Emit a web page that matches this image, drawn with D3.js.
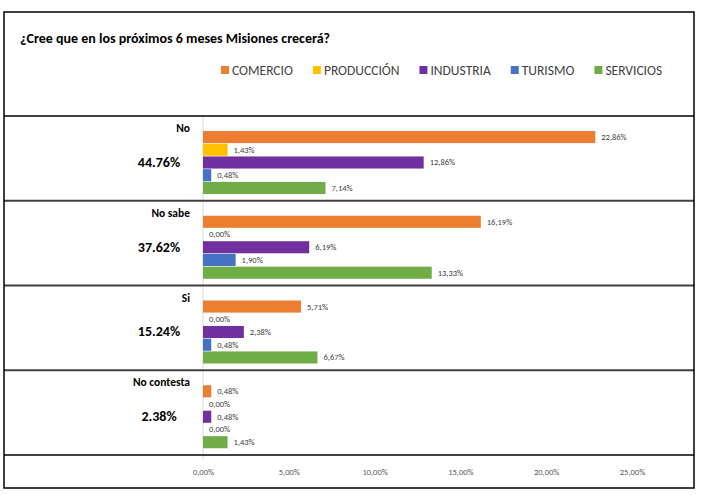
<!DOCTYPE html>
<html>
<head>
<meta charset="utf-8">
<script src="https://cdn.jsdelivr.net/npm/d3@7"></script>
<style>
  body { margin: 0; background: #fff; }
  svg { font-family: Carlito, "Liberation Sans", Arial, sans-serif; }
</style>
</head>
<body>
<svg id="chart"></svg>
<script>
// Data
const categories = ['No', 'No sabe', 'Si', 'No contesta'];
const totals = ['44.76%', '37.62%', '15.24%', '2.38%'];
const series = ['COMERCIO', 'PRODUCCIÓN', 'INDUSTRIA', 'TURISMO', 'SERVICIOS'];
const colors = ['#ED7D31', '#FFC000', '#7030A0', '#4472C4', '#70AD47'];
const comercio   = [22.86, 16.19, 5.71, 0.48];
const produccion = [1.43, 0.00, 0.00, 0.00];
const industria  = [12.86, 6.19, 2.38, 0.48];
const turismo    = [0.48, 1.90, 0.48, 0.00];
const servicios  = [7.14, 13.33, 6.67, 1.43];
const tickValues = [0, 5, 10, 15, 20, 25];
const title = '¿Cree que en los próximos 6 meses Misiones crecerá?';

const seriesValues = [comercio, produccion, industria, turismo, servicios];
const rows = categories.map((c, i) => ({
    category: c,
    total: totals[i],
    values: series.map((s, j) => ({ series: s, value: seriesValues[j][i] }))
}));

const width = 701, height = 495;
const frame = { left: 4, right: 694, top: 12, bottom: 488 };
const plot = { top: 116, bottom: 455 };

const fmt = v => d3.format('.2f')(v).replace('.', ',') + '%';

const svg = d3.select('#chart')
    .attr('width', width)
    .attr('height', height);

// Scales
const x = d3.scaleLinear().domain([0, 25]).range([203, 632]);
const y0 = d3.scaleBand().domain(categories).range([plot.top, plot.bottom]);
const y1 = d3.scaleBand().domain(series).range([15, 78]).paddingInner(0.05);
const color = d3.scaleOrdinal().domain(series).range(colors);

// Title
svg.append('text')
    .attr('x', 20)
    .attr('y', 38)
    .attr('dy', '0.35em')
    .attr('font-weight', 'bold')
    .attr('font-size', 14)
    .attr('fill', '#000')
    .text(title);

// Legend
const legend = svg.append('g').attr('transform', 'translate(0,70)');
let lx = 221;
series.forEach(s => {
    const item = legend.append('g').attr('transform', `translate(${lx},0)`);
    item.append('rect')
        .attr('x', 0).attr('y', -4)
        .attr('width', 8).attr('height', 8)
        .attr('fill', color(s));
    const t = item.append('text')
        .attr('x', 11)
        .attr('dy', '0.35em')
        .attr('font-size', 13.5)
        .attr('fill', '#404040')
        .text(s);
    lx += 11 + t.node().getComputedTextLength() + 20;
});

// Zero line
svg.append('line')
    .attr('x1', x(0)).attr('x2', x(0))
    .attr('y1', plot.top).attr('y2', plot.bottom + 4)
    .attr('stroke', '#d9d9d9')
    .attr('stroke-width', 1);

// Row groups
const row = svg.selectAll('.row')
    .data(rows)
    .join('g')
    .attr('class', 'row')
    .attr('transform', d => `translate(0,${y0(d.category)})`);

row.append('text')
    .attr('x', 190)
    .attr('y', 12)
    .attr('dy', '0.35em')
    .attr('text-anchor', 'end')
    .attr('font-weight', 'bold')
    .attr('font-size', 11.5)
    .attr('fill', '#000')
    .text(d => d.category);

row.append('text')
    .attr('x', 159)
    .attr('y', 46)
    .attr('dy', '0.35em')
    .attr('text-anchor', 'middle')
    .attr('font-weight', 'bold')
    .attr('font-size', 14)
    .attr('fill', '#000')
    .text(d => d.total);

row.selectAll('.bar')
    .data(d => d.values)
    .join('rect')
    .attr('class', 'bar')
    .attr('x', x(0))
    .attr('y', d => y1(d.series))
    .attr('width', d => x(d.value) - x(0))
    .attr('height', y1.bandwidth())
    .attr('fill', d => color(d.series));

row.selectAll('.val')
    .data(d => d.values)
    .join('text')
    .attr('class', 'val')
    .attr('x', d => x(d.value) + 6)
    .attr('y', d => y1(d.series) + y1.bandwidth() / 2)
    .attr('dy', '0.35em')
    .attr('font-size', 8.5)
    .attr('fill', '#404040')
    .text(d => fmt(d.value));

// Table lines between rows
const bounds = categories.map(c => y0(c)).concat([plot.bottom]);
svg.selectAll('.sep')
    .data(bounds)
    .join('line')
    .attr('class', 'sep')
    .attr('x1', frame.left).attr('x2', frame.right)
    .attr('y1', d => d).attr('y2', d => d)
    .attr('stroke', '#404040')
    .attr('stroke-width', 2);

// X axis
const xAxis = d3.axisBottom(x)
    .tickValues(tickValues)
    .tickSize(0)
    .tickFormat(fmt);

svg.append('g')
    .attr('transform', 'translate(0,466)')
    .attr('font-family', null)
    .call(xAxis)
    .call(g => g.select('.domain').remove())
    .call(g => g.attr('font-family', null))
    .selectAll('text')
    .attr('font-size', 8.5)
    .attr('fill', '#595959');

// Outer frame
svg.append('rect')
    .attr('x', frame.left).attr('y', frame.top)
    .attr('width', frame.right - frame.left)
    .attr('height', frame.bottom - frame.top)
    .attr('fill', 'none')
    .attr('stroke', '#000')
    .attr('stroke-width', 1.5);
</script>
</body>
</html>
